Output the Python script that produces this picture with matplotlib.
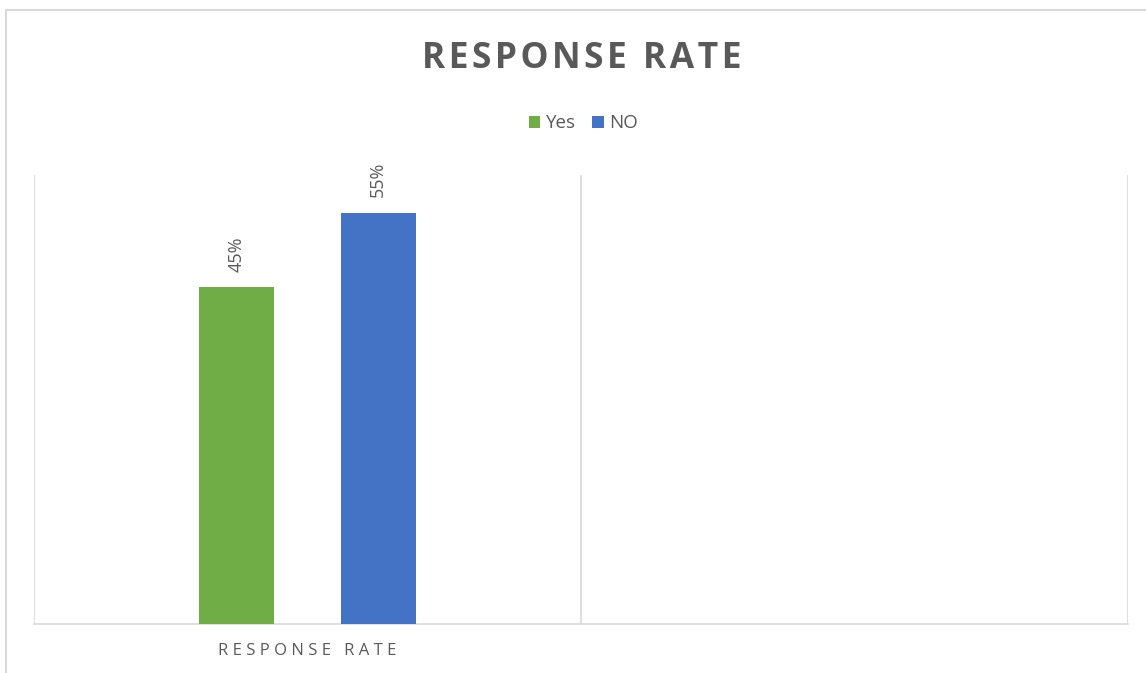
import matplotlib.pyplot as plt
from matplotlib.patches import Rectangle
import numpy as np

categories = ['RESPONSE RATE', '']
yes_vals = [45, np.nan]
no_vals = [55, np.nan]
series_names = ['Yes', 'NO']

GREEN = '#70AD47'
BLUE = '#4472C4'
GRID = '#D9D9D9'
TEXT = '#595959'


def spaced(s, sep='\u2009'):
    return sep.join(s)


def main():
    plt.rcParams['font.family'] = ['Open Sans', 'DejaVu Sans']
    fig = plt.figure(figsize=(11.46, 6.73), dpi=100)
    ax = fig.add_axes([0.0297, 0.0728, 0.9546, 0.667])

    x = np.arange(len(categories)) + 0.5
    w = 0.137
    off = 0.129
    b1 = ax.bar(x - off, yes_vals, w, color=GREEN, label=series_names[0], zorder=3)
    b2 = ax.bar(x + off, no_vals, w, color=BLUE, label=series_names[1], zorder=3)

    for bars, vals in ((b1, yes_vals), (b2, no_vals)):
        for r, v in zip(bars, vals):
            if np.isnan(v):
                continue
            ax.annotate('%d%%' % v, (r.get_x() + r.get_width() / 2, v),
                        xytext=(0, 11), textcoords='offset points',
                        rotation=90, ha='center', va='bottom',
                        fontsize=13, color=TEXT)

    ax.set_xlim(0, len(categories))
    ax.set_ylim(0, 60)
    ax.set_yticks([])
    ax.set_xticks(x)
    ax.set_xticklabels([spaced(c, ' ') for c in categories], fontsize=12, color=TEXT)
    ax.tick_params(axis='x', length=0, pad=14)
    for v in range(len(categories) + 1):
        ax.axvline(v, color=GRID, lw=1.2, zorder=1)
    for s in ['top', 'left', 'right']:
        ax.spines[s].set_visible(False)
    ax.spines['bottom'].set_color(GRID)
    ax.spines['bottom'].set_linewidth(1.2)

    fig.text(0.508, 0.913, spaced('RESPONSE RATE', '\u200a'), ha='center', va='center',
             fontsize=25.5, fontweight='bold', color=TEXT)

    fig.legend(loc='center', bbox_to_anchor=(0.509, 0.817), ncol=2, frameon=False,
               fontsize=13.5, handlelength=0.6, handleheight=0.6, handletextpad=0.3,
               columnspacing=0.9, labelcolor=TEXT)

    # outer chart border
    fig.patches.append(Rectangle((0.005, -0.1), 1.1, 1.085, transform=fig.transFigure,
                                 fill=False, edgecolor=GRID, lw=1.5))

    fig.savefig('out.png', dpi=100)


main()
